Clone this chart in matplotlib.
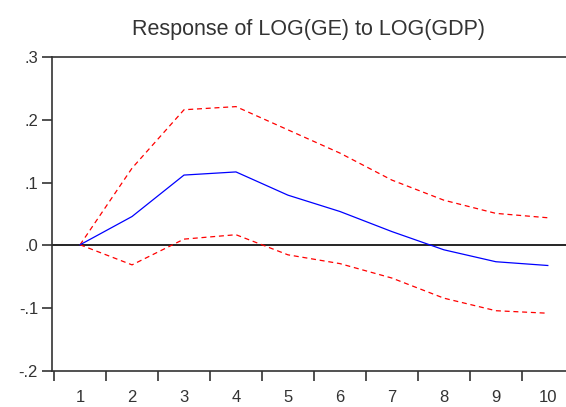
import matplotlib
matplotlib.use("Agg")
import matplotlib.pyplot as plt

# impulse response of LOG(GE) to a LOG(GDP) shock, +/- 2 s.e. bands
periods = [1, 2, 3, 4, 5, 6, 7, 8, 9, 10]
response = [0.001, 0.046, 0.112, 0.117, 0.080, 0.054, 0.022, -0.007, -0.026, -0.032]
upper = [0.001, 0.123, 0.216, 0.221, 0.184, 0.147, 0.104, 0.072, 0.051, 0.044]
lower = [0.001, -0.031, 0.010, 0.017, -0.015, -0.029, -0.052, -0.084, -0.104, -0.108]
yticks = [0.3, 0.2, 0.1, 0.0, -0.1, -0.2]
ytick_labels = [".3", ".2", ".1", ".0", "-.1", "-.2"]

plt.rcParams["font.family"] = ["Liberation Sans", "DejaVu Sans"]
label_color = "#333333"

fig = plt.figure(figsize=(5.66, 4.07), dpi=100)
ax = fig.add_axes([52 / 566, 1 - 371 / 407, 1 - 52 / 566, (371 - 57) / 407])

ax.axhline(0, color="black", lw=1.2, zorder=1)
ax.plot(periods, upper, color="red", lw=0.9, ls=(0, (4, 3)), zorder=2)
ax.plot(periods, lower, color="red", lw=0.9, ls=(0, (4, 3)), zorder=2)
ax.plot(periods, response, color="blue", lw=0.9, zorder=3)

ax.set_xlim(0.46, 10.35)
ax.set_ylim(-0.2, 0.3)

# tick marks sit between periods, labels at the periods
ax.set_xticks([p - 0.5 for p in periods])
ax.set_xticklabels([])
ax.set_xticks(periods, minor=True)
ax.set_xticklabels([str(p) for p in periods], minor=True)
ax.tick_params(axis="x", which="major", direction="out", length=7, width=1.2,
               color="#333333")
ax.tick_params(axis="x", which="minor", length=0, labelsize=12, pad=14,
               labelcolor=label_color)

ax.set_yticks(yticks)
ax.set_yticklabels(ytick_labels)
ax.tick_params(axis="y", direction="out", length=7, width=1.2, labelsize=12, pad=3,
               labelcolor=label_color, color="#333333")

for s in ax.spines.values():
    s.set_linewidth(1.2)
    s.set_color("#333333")
ax.spines["right"].set_visible(False)

ax.set_title("Response of LOG(GE) to LOG(GDP)", fontsize=15.5, pad=16,
             color=label_color)

fig.savefig("out.png", dpi=100)
